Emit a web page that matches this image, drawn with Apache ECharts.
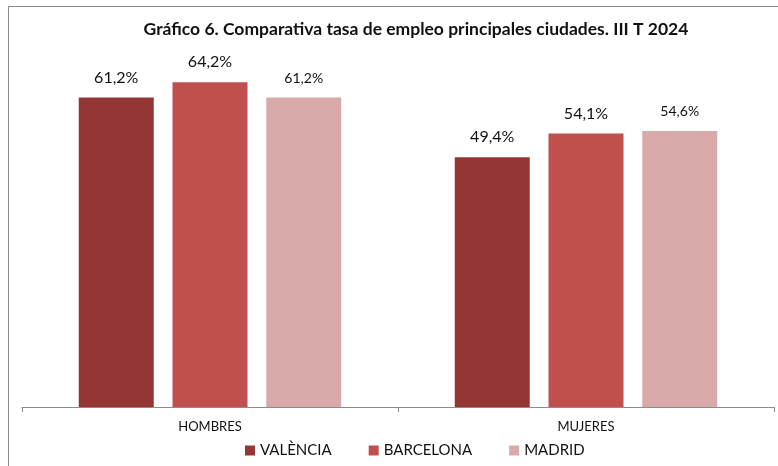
<!DOCTYPE html>
<html>
<head>
<meta charset="utf-8">
<script src="https://cdn.jsdelivr.net/npm/echarts@6/dist/echarts.min.js"></script>
<style>
html, body { margin: 0; padding: 0; background: #fff; }
#main { width: 778px; height: 466px; }
</style>
</head>
<body>
<div id="main"></div>
<script>
var categories = ['HOMBRES', 'MUJERES'];
var valencia = [61.2, 49.4];
var barcelona = [64.2, 54.1];
var madrid = [61.2, 54.6];

var myChart = echarts.init(document.getElementById('main'));
var fontFam = 'Lato, "Open Sans", sans-serif';

function fmt(p) {
    return p.value.toFixed(1).replace('.', ',') + '%';
}

function mkSeries(name, data, color, labelSize) {
    return {
        name: name,
        type: 'bar',
        data: data,
        barWidth: 75,
        barGap: '25%',
        itemStyle: { color: color },
        label: {
            show: true,
            position: 'top',
            distance: 12,
            formatter: fmt,
            color: '#111',
            fontFamily: fontFam,
            fontSize: labelSize
        }
    };
}

myChart.setOption({
    backgroundColor: '#fff',
    animation: false,
    graphic: [{
        type: 'rect',
        shape: { x: 8.5, y: 6.5, width: 820, height: 520 },
        style: { fill: 'none', stroke: '#8c8c8c', lineWidth: 1 },
        silent: true
    }],
    title: {
        text: 'Gráfico 6. Comparativa tasa de empleo principales ciudades. III T 2024',
        left: 411,
        textAlign: 'center',
        top: 15,
        textStyle: {
            fontFamily: fontFam,
            fontWeight: 'bold',
            fontSize: 17.5,
            color: '#111'
        }
    },
    legend: {
        data: ['VALÈNCIA', 'BARCELONA', 'MADRID'],
        left: 240,
        top: 438,
        itemWidth: 10,
        itemHeight: 10,
        itemGap: 37,
        icon: 'rect',
        textStyle: { fontFamily: fontFam, fontSize: 15, color: '#111' }
    },
    grid: { left: 22, right: 4, top: 53, bottom: 59 },
    xAxis: {
        type: 'category',
        data: categories,
        axisLine: { lineStyle: { color: '#8c8c8c', width: 1 } },
        axisTick: { show: true, length: 5, lineStyle: { color: '#8c8c8c' } },
        axisLabel: { fontFamily: fontFam, fontSize: 13, color: '#111', margin: 13 }
    },
    yAxis: {
        type: 'value',
        min: 0,
        max: 70,
        show: false
    },
    series: [
        mkSeries('VALÈNCIA', valencia, '#943634', 16),
        mkSeries('BARCELONA', barcelona, '#C0504D', 16),
        mkSeries('MADRID', madrid, '#DAA9A9', 14)
    ]
});
</script>
</body>
</html>
